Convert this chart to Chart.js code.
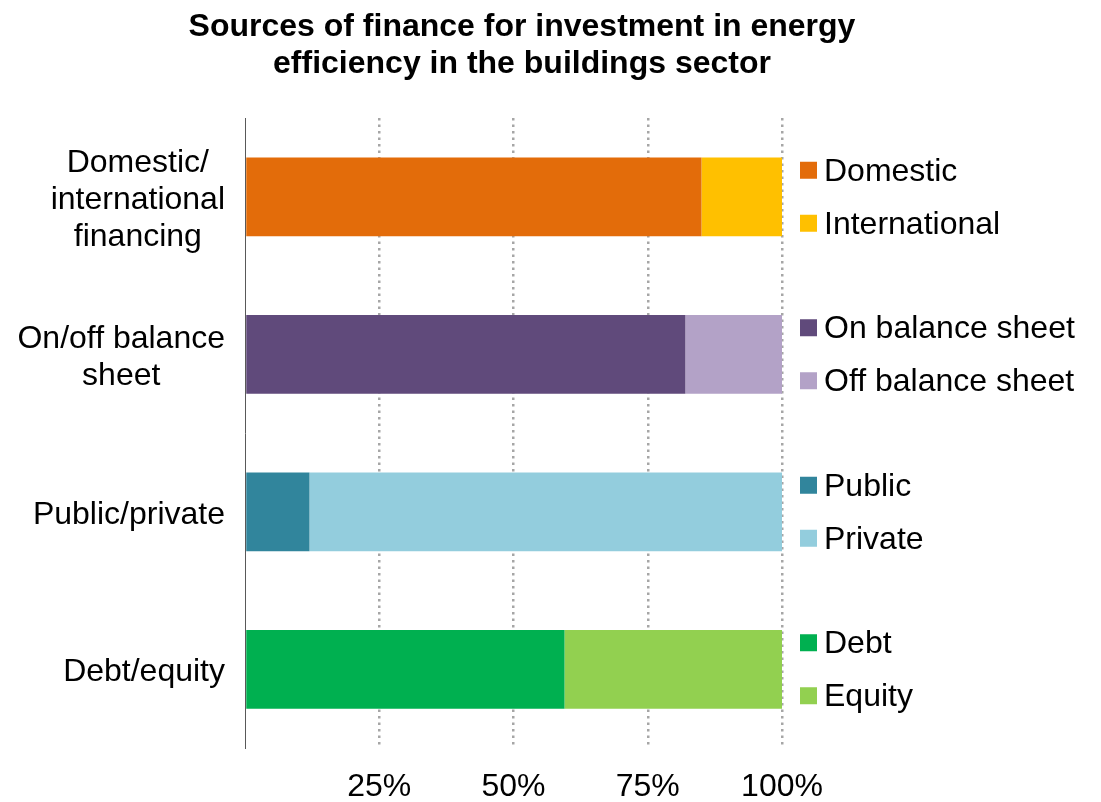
<!DOCTYPE html>
<html>
<head>
<meta charset="utf-8">
<script src="https://cdn.jsdelivr.net/npm/chart.js@4.4.1/dist/chart.umd.min.js"></script>
<style>
body { margin: 0; background: #fff; }
</style>
</head>
<body>
<canvas id="chart" width="1101" height="802"></canvas>
<script>
// data (shares in %)
const categories = [['Domestic/', 'international', 'financing'], ['On/off balance', 'sheet'], ['Public/private'], ['Debt/equity']];
const firstLabels = ['Domestic', 'On balance sheet', 'Public', 'Debt'];
const secondLabels = ['International', 'Off balance sheet', 'Private', 'Equity'];
const firstShares = [85, 82, 12, 59.5];
const secondShares = [15, 18, 88, 40.5];
const xTicks = [25, 50, 75, 100];
const firstColors = ['#e36c0a', '#604a7b', '#31859c', '#00b050'];
const secondColors = ['#ffc000', '#b3a2c7', '#93cddd', '#92d050'];
const titleLines = ['Sources of finance for investment in energy', 'efficiency in the buildings sector'];

const FONT = '"Liberation Sans", Arial, sans-serif';

// title, category labels and the per-bar legend
const labelsPlugin = {
    id: 'labels',
    afterDraw(chart) {
        const ctx = chart.ctx;
        const y = chart.scales.y;
        const area = chart.chartArea;
        ctx.save();
        ctx.fillStyle = '#000';
        ctx.textBaseline = 'middle';

        ctx.font = 'bold 32px ' + FONT;
        ctx.textAlign = 'center';
        titleLines.forEach((t, i) => ctx.fillText(t, 522, 27 + i * 37));

        ctx.font = '32px ' + FONT;
        categories.forEach((lines, i) => {
            const cy = y.getPixelForValue(i) + 3;
            const w = Math.max(...lines.map(l => ctx.measureText(l).width));
            const cx = area.left - 20 - w / 2;
            lines.forEach((l, j) => ctx.fillText(l, cx, cy + (j - (lines.length - 1) / 2) * 37));
        });

        ctx.textAlign = 'left';
        const x0 = area.right + 18;
        categories.forEach((c, i) => {
            const cy = y.getPixelForValue(i);
            const items = [
                [firstLabels[i], firstColors[i], -26.5],
                [secondLabels[i], secondColors[i], 26.5]
            ];
            items.forEach(([t, col, dy]) => {
                ctx.fillStyle = col;
                ctx.fillRect(x0, cy + dy - 8.5, 17, 17);
                ctx.fillStyle = '#000';
                ctx.fillText(t, x0 + 24, cy + dy + 1.5);
            });
        });
        ctx.restore();
    }
};

new Chart(
    document.getElementById('chart'),
    {
        type: 'bar',
        plugins: [labelsPlugin],
        options: {
            responsive: false,
            animation: false,
            indexAxis: 'y',
            layout: {
                padding: { top: 118, right: 319, left: 0, bottom: 0 }
            },
            plugins: {
                legend: { display: false },
                tooltip: { enabled: false },
                title: { display: false }
            },
            scales: {
                x: {
                    stacked: true,
                    min: 0,
                    max: 100,
                    afterBuildTicks: scale => {
                        scale.ticks = [0].concat(xTicks).map(v => ({ value: v }));
                    },
                    afterFit: scale => { scale.height = 54; },
                    border: { display: false, dash: [2.5, 4] },
                    grid: {
                        drawTicks: false,
                        lineWidth: 2.5,
                        color: c => c.tick && c.tick.value === 0 ? 'rgba(0,0,0,0)' : '#a6a6a6'
                    },
                    ticks: {
                        padding: 20,
                        color: '#000',
                        font: { family: FONT, size: 32 },
                        callback: v => v === 0 ? '' : v + '%'
                    }
                },
                y: {
                    stacked: true,
                    afterFit: scale => { scale.width = 245; },
                    border: { display: true, color: '#595959', width: 1 },
                    grid: { display: false },
                    ticks: { display: false }
                }
            }
        },
        data: {
            labels: categories,
            datasets: [
                {
                    label: 'First',
                    data: firstShares,
                    backgroundColor: firstColors,
                    borderWidth: 0,
                    categoryPercentage: 1,
                    barPercentage: 0.5
                },
                {
                    label: 'Second',
                    data: secondShares,
                    backgroundColor: secondColors,
                    borderWidth: 0,
                    categoryPercentage: 1,
                    barPercentage: 0.5
                }
            ]
        }
    }
);
</script>
</body>
</html>
